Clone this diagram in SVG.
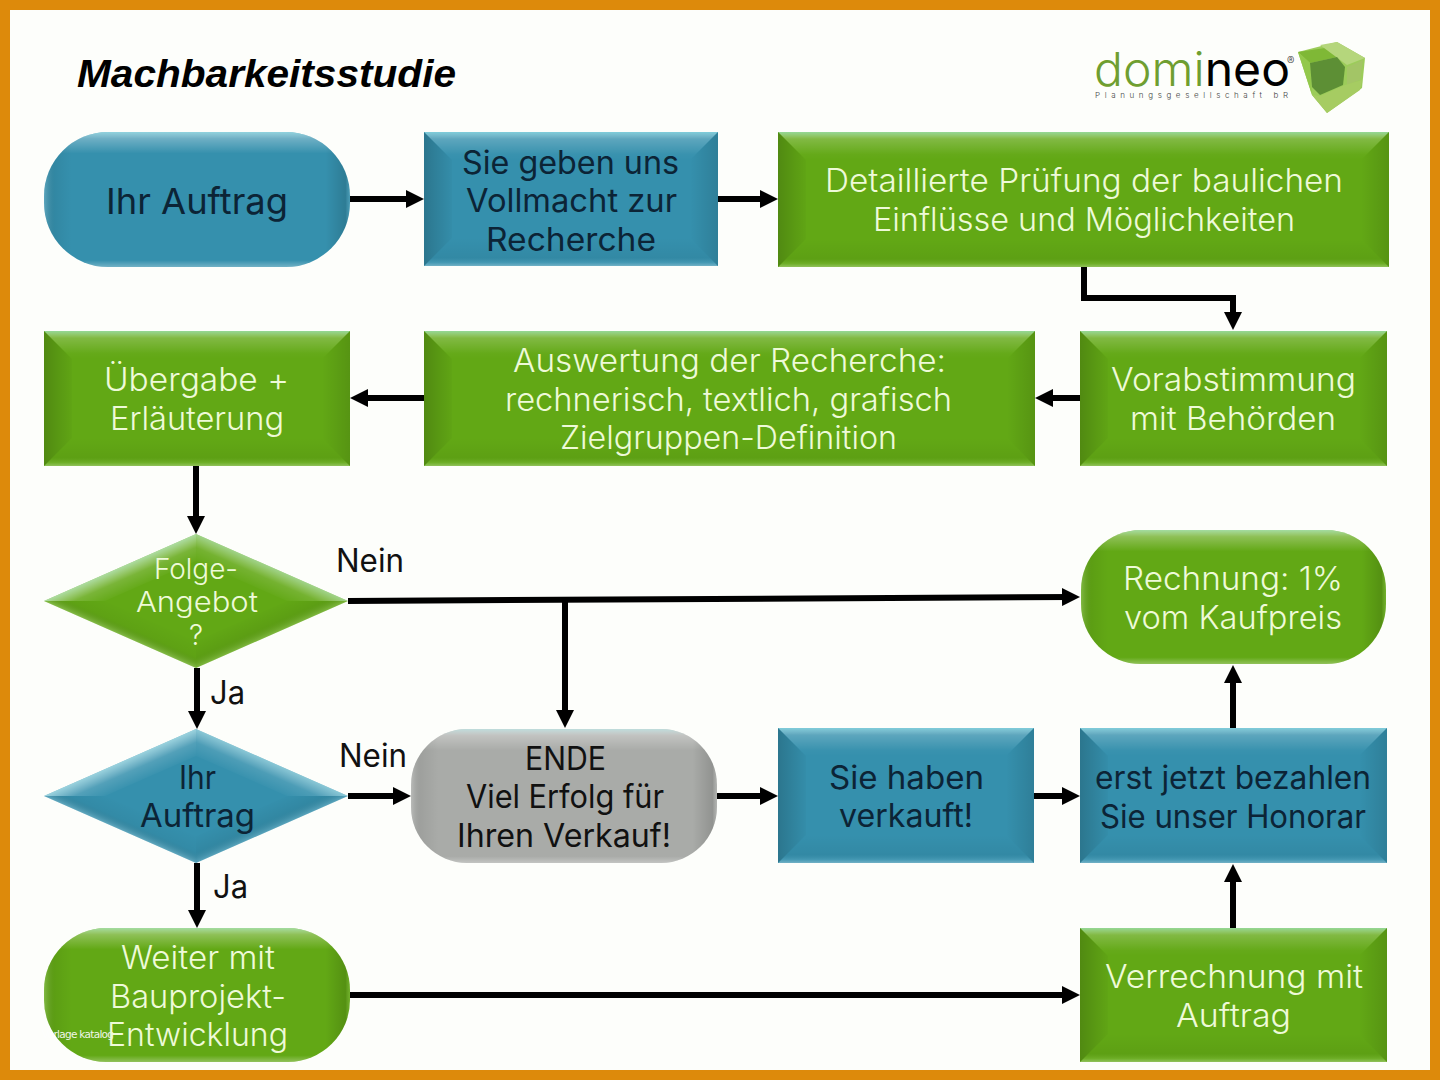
<svg xmlns="http://www.w3.org/2000/svg" width="1440" height="1080" viewBox="0 0 1440 1080">
<style>
text{font-family:"Inter","Lato","Liberation Sans",sans-serif;font-weight:300}
.t{font-size:32px;fill:#eefad8}
.d{font-size:32px;fill:#0c2436;font-weight:400}
.s{font-size:28px}
.l{font-size:32px;fill:#111;font-weight:400}
.green{fill:#62a815}.blue{fill:#3590ad}.gray{fill:#a9aba8}
.top{fill:url(#gTop)}.bot{fill:url(#gBot)}.lft{fill:url(#gLeft)}.rgt{fill:url(#gRight)}
.pv{fill:url(#pV)}.ph{fill:url(#pH)}
.tl{fill:url(#dTL)}.tr{fill:url(#dTR)}.bl{fill:url(#dBL)}.br{fill:url(#dBR)}
.c{fill:none;stroke:#000;stroke-width:6;marker-end:url(#arr)}
</style>
<defs>
<marker id="arr" markerUnits="userSpaceOnUse" markerWidth="18" markerHeight="18" viewBox="0 0 18 18" refX="10" refY="9" orient="auto"><path d="M0 0L18 9L0 18Z" fill="#000"/></marker>
<linearGradient id="gTop" x1="0" y1="0" x2="0" y2="1"><stop offset="0" stop-color="#bff" stop-opacity=".55"/><stop offset=".25" stop-color="#fff" stop-opacity=".2"/><stop offset=".8" stop-color="#fff" stop-opacity=".02"/><stop offset="1" stop-color="#fff" stop-opacity="0"/></linearGradient>
<linearGradient id="gBot" x1="0" y1="1" x2="0" y2="0"><stop offset="0" stop-color="#fff" stop-opacity=".3"/><stop offset=".12" stop-color="#fff" stop-opacity=".08"/><stop offset=".3" stop-color="#000" stop-opacity=".05"/><stop offset="1" stop-color="#000" stop-opacity="0"/></linearGradient>
<linearGradient id="gLeft" x1="0" y1="0" x2="1" y2="0"><stop offset="0" stop-color="#000" stop-opacity=".18"/><stop offset="1" stop-color="#000" stop-opacity=".02"/></linearGradient>
<linearGradient id="gRight" x1="1" y1="0" x2="0" y2="0"><stop offset="0" stop-color="#000" stop-opacity=".12"/><stop offset="1" stop-color="#000" stop-opacity="0"/></linearGradient>
<linearGradient id="pV" x1="0" y1="0" x2="0" y2="1"><stop offset="0" stop-color="#cff" stop-opacity=".6"/><stop offset=".05" stop-color="#fff" stop-opacity=".28"/><stop offset=".16" stop-color="#fff" stop-opacity="0"/><stop offset=".95" stop-color="#fff" stop-opacity="0"/><stop offset="1" stop-color="#fff" stop-opacity=".3"/></linearGradient>
<linearGradient id="pH" x1="0" y1="0" x2="1" y2="0"><stop offset="0" stop-color="#fff" stop-opacity=".2"/><stop offset=".035" stop-color="#000" stop-opacity=".06"/><stop offset=".09" stop-color="#000" stop-opacity="0"/><stop offset=".92" stop-color="#000" stop-opacity="0"/><stop offset=".985" stop-color="#000" stop-opacity=".14"/><stop offset="1" stop-color="#fff" stop-opacity=".1"/></linearGradient>
<linearGradient id="dTL" x1="0" y1="0" x2="1" y2="1"><stop offset=".5" stop-color="#dff" stop-opacity=".6"/><stop offset=".6" stop-color="#fff" stop-opacity=".15"/><stop offset=".72" stop-color="#fff" stop-opacity="0"/></linearGradient>
<linearGradient id="dTR" x1="1" y1="0" x2="0" y2="1"><stop offset=".5" stop-color="#dff" stop-opacity=".5"/><stop offset=".6" stop-color="#fff" stop-opacity=".12"/><stop offset=".72" stop-color="#fff" stop-opacity="0"/></linearGradient>
<linearGradient id="dBL" x1="0" y1="1" x2="1" y2="0"><stop offset=".5" stop-color="#fff" stop-opacity=".22"/><stop offset=".58" stop-color="#000" stop-opacity=".04"/><stop offset=".72" stop-color="#000" stop-opacity="0"/></linearGradient>
<linearGradient id="dBR" x1="1" y1="1" x2="0" y2="0"><stop offset=".5" stop-color="#fff" stop-opacity=".18"/><stop offset=".58" stop-color="#000" stop-opacity=".06"/><stop offset=".72" stop-color="#000" stop-opacity="0"/></linearGradient>
</defs>
<rect width="1440" height="1080" fill="#fdfefb"/>
<rect x="5" y="5" width="1430" height="1070" fill="none" stroke="#dd8a0b" stroke-width="10"/>

<g id="title"><text x="77" y="87" font-size="38" textLength="379" lengthAdjust="spacingAndGlyphs" style="font-family:'Liberation Sans',sans-serif;font-weight:bold;font-style:italic" fill="#000">Machbarkeitsstudie</text></g>

<g id="logo">
<text x="1094" y="86" font-size="47" textLength="196" lengthAdjust="spacingAndGlyphs"><tspan fill="#6f9e30">domi</tspan><tspan fill="#000" font-weight="400">neo</tspan></text>
<text x="1287" y="65" font-size="11" fill="#333">®</text>
<text x="1095" y="98" font-size="8" fill="#444" font-weight="400" textLength="193" lengthAdjust="spacing">Planungsgesellschaft bR</text>
<polygon points="1298,52 1337,42 1365,58 1362,88 1327,113 1312,95" fill="#9ccc5a"/>
<polygon points="1298,52 1325,48 1337,57 1310,63" fill="#7fb836"/>
<polygon points="1320,45 1337,42 1365,58 1347,65" fill="#b5d67c"/>
<polygon points="1347,67 1363,60 1360,80 1347,85" fill="#a3c566"/>
<polygon points="1298,52 1310,63 1312,95" fill="#93c84b"/>
<polygon points="1310,63 1337,57 1345,67 1343,85 1320,95 1312,87" fill="#5d8f35"/>
<polygon points="1312,95 1320,96 1345,85 1362,80 1360,90 1327,113" fill="#a6cc62"/>
</g>

<g id="connectors">
<path class="c" d="M350 199H416"/>
<path class="c" d="M718 199H770"/>
<path class="c" d="M1084 267V298H1233V322"/>
<path class="c" d="M1080 398H1043"/>
<path class="c" d="M424 398H358"/>
<path class="c" d="M196 466V526"/>
<path class="c" d="M348 601L1072 597"/>
<path class="c" d="M565 601V720"/>
<path class="c" d="M197 668V721"/>
<path class="c" d="M348 796H403"/>
<path class="c" d="M717 796H770"/>
<path class="c" d="M1034 796H1072"/>
<path class="c" d="M1233 728V673"/>
<path class="c" d="M1233 928V872"/>
<path class="c" d="M197 863V920"/>
<path class="c" d="M350 995H1072"/>
</g>

<g id="n-start">
<rect class="blue" x="44" y="132" width="306" height="135" rx="64"/><rect class="pv" x="44" y="132" width="306" height="135" rx="64"/><rect class="ph" x="44" y="132" width="306" height="135" rx="64"/>
<text class="d" x="106" y="214" style="font-size:36px" textLength="182" lengthAdjust="spacingAndGlyphs">Ihr Auftrag</text>
</g>

<g id="n-vollmacht">
<rect class="blue" x="424" y="132" width="294" height="134"/>
<polygon class="top" points="424,132 718,132 690,160 452,160"/><polygon class="bot" points="424,266 718,266 690,238 452,238"/><polygon class="lft" points="424,132 452,160 452,238 424,266"/><polygon class="rgt" points="718,132 690,160 690,238 718,266"/>
<text class="d" x="462" y="174" textLength="217" lengthAdjust="spacingAndGlyphs">Sie geben uns</text>
<text class="d" x="466" y="212" textLength="211" lengthAdjust="spacingAndGlyphs">Vollmacht zur</text>
<text class="d" x="486" y="251" textLength="170" lengthAdjust="spacingAndGlyphs">Recherche</text>
</g>

<g id="n-pruefung">
<rect class="green" x="778" y="132" width="611" height="135"/>
<polygon class="top" points="778,132 1389,132 1361,160 806,160"/><polygon class="bot" points="778,267 1389,267 1361,239 806,239"/><polygon class="lft" points="778,132 806,160 806,239 778,267"/><polygon class="rgt" points="1389,132 1361,160 1361,239 1389,267"/>
<text class="t" x="825" y="192" textLength="518" lengthAdjust="spacingAndGlyphs">Detaillierte Prüfung der baulichen</text>
<text class="t" x="873" y="231" textLength="422" lengthAdjust="spacingAndGlyphs">Einflüsse und Möglichkeiten</text>
</g>

<g id="n-uebergabe">
<rect class="green" x="44" y="331" width="306" height="135"/>
<polygon class="top" points="44,331 350,331 322,359 72,359"/><polygon class="bot" points="44,466 350,466 322,438 72,438"/><polygon class="lft" points="44,331 72,359 72,438 44,466"/><polygon class="rgt" points="350,331 322,359 322,438 350,466"/>
<text class="t" x="104" y="391" textLength="185" lengthAdjust="spacingAndGlyphs">Übergabe +</text>
<text class="t" x="110" y="430" textLength="174" lengthAdjust="spacingAndGlyphs">Erläuterung</text>
</g>

<g id="n-auswertung">
<rect class="green" x="424" y="331" width="611" height="135"/>
<polygon class="top" points="424,331 1035,331 1007,359 452,359"/><polygon class="bot" points="424,466 1035,466 1007,438 452,438"/><polygon class="lft" points="424,331 452,359 452,438 424,466"/><polygon class="rgt" points="1035,331 1007,359 1007,438 1035,466"/>
<text class="t" x="513" y="372" textLength="433" lengthAdjust="spacingAndGlyphs">Auswertung der Recherche:</text>
<text class="t" x="505" y="411" textLength="447" lengthAdjust="spacingAndGlyphs">rechnerisch, textlich, grafisch</text>
<text class="t" x="560" y="449" textLength="337" lengthAdjust="spacingAndGlyphs">Zielgruppen-Definition</text>
</g>

<g id="n-vorabstimmung">
<rect class="green" x="1080" y="331" width="307" height="135"/>
<polygon class="top" points="1080,331 1387,331 1359,359 1108,359"/><polygon class="bot" points="1080,466 1387,466 1359,438 1108,438"/><polygon class="lft" points="1080,331 1108,359 1108,438 1080,466"/><polygon class="rgt" points="1387,331 1359,359 1359,438 1387,466"/>
<text class="t" x="1111" y="391" textLength="245" lengthAdjust="spacingAndGlyphs">Vorabstimmung</text>
<text class="t" x="1130" y="430" textLength="206" lengthAdjust="spacingAndGlyphs">mit Behörden</text>
</g>

<g id="n-folgeangebot">
<polygon class="green" points="196,534 348,601 196,668 44,601"/>
<polygon class="tl" points="196,534 44,601 105,601 196,561"/><polygon class="tr" points="196,534 348,601 287,601 196,561"/><polygon class="bl" points="44,601 196,668 196,641 105,601"/><polygon class="br" points="348,601 196,668 196,641 287,601"/>
<text class="t s" x="154" y="579" textLength="84" lengthAdjust="spacingAndGlyphs">Folge-</text>
<text class="t s" x="136" y="612" textLength="122" lengthAdjust="spacingAndGlyphs">Angebot</text>
<text class="t s" x="196" y="645" text-anchor="middle">?</text>
</g>

<g id="n-auftrag-decision">
<polygon class="blue" points="196,729 348,796 196,863 44,796"/>
<polygon class="tl" points="196,729 44,796 105,796 196,756"/><polygon class="tr" points="196,729 348,796 287,796 196,756"/><polygon class="bl" points="44,796 196,863 196,836 105,796"/><polygon class="br" points="348,796 196,863 196,836 287,796"/>
<text class="d" x="179" y="789" textLength="37" lengthAdjust="spacingAndGlyphs">Ihr</text>
<text class="d" x="140" y="827" textLength="115" lengthAdjust="spacingAndGlyphs">Auftrag</text>
</g>

<g id="n-rechnung">
<rect class="green" x="1081" y="530" width="305" height="134" rx="60"/><rect class="pv" x="1081" y="530" width="305" height="134" rx="60"/><rect class="ph" x="1081" y="530" width="305" height="134" rx="60"/>
<text class="t" x="1123" y="590" textLength="220" lengthAdjust="spacingAndGlyphs">Rechnung: 1%</text>
<text class="t" x="1124" y="629" textLength="218" lengthAdjust="spacingAndGlyphs">vom Kaufpreis</text>
</g>

<g id="n-ende">
<rect class="gray" x="411" y="729" width="306" height="134" rx="56"/><rect class="pv" x="411" y="729" width="306" height="134" rx="56"/><rect class="ph" x="411" y="729" width="306" height="134" rx="56"/>
<text class="d" x="525" y="770" fill="#111" style="fill:#111" textLength="81" lengthAdjust="spacingAndGlyphs">ENDE</text>
<text class="d" x="466" y="808" style="fill:#111" textLength="198" lengthAdjust="spacingAndGlyphs">Viel Erfolg für</text>
<text class="d" x="457" y="847" style="fill:#111" textLength="214" lengthAdjust="spacingAndGlyphs">Ihren Verkauf!</text>
</g>

<g id="n-verkauft">
<rect class="blue" x="778" y="728" width="256" height="135"/>
<polygon class="top" points="778,728 1034,728 1006,756 806,756"/><polygon class="bot" points="778,863 1034,863 1006,835 806,835"/><polygon class="lft" points="778,728 806,756 806,835 778,863"/><polygon class="rgt" points="1034,728 1006,756 1006,835 1034,863"/>
<text class="d" x="829" y="789" textLength="155" lengthAdjust="spacingAndGlyphs">Sie haben</text>
<text class="d" x="839" y="827" textLength="134" lengthAdjust="spacingAndGlyphs">verkauft!</text>
</g>

<g id="n-honorar">
<rect class="blue" x="1080" y="728" width="307" height="135"/>
<polygon class="top" points="1080,728 1387,728 1359,756 1108,756"/><polygon class="bot" points="1080,863 1387,863 1359,835 1108,835"/><polygon class="lft" points="1080,728 1108,756 1108,835 1080,863"/><polygon class="rgt" points="1387,728 1359,756 1359,835 1387,863"/>
<text class="d" x="1095" y="789" textLength="276" lengthAdjust="spacingAndGlyphs">erst jetzt bezahlen</text>
<text class="d" x="1100" y="828" textLength="266" lengthAdjust="spacingAndGlyphs">Sie unser Honorar</text>
</g>

<g id="n-weiter">
<rect class="green" x="44" y="928" width="306" height="134" rx="62"/><rect class="pv" x="44" y="928" width="306" height="134" rx="62"/><rect class="ph" x="44" y="928" width="306" height="134" rx="62"/>
<text x="42" y="1038" font-size="10.5" fill="#fff" opacity=".9" textLength="72" style="font-family:'DejaVu Sans',sans-serif;font-weight:400">Vorlage katalog</text>
<text class="t" x="121" y="969" textLength="154" lengthAdjust="spacingAndGlyphs">Weiter mit</text>
<text class="t" x="110" y="1008" textLength="176" lengthAdjust="spacingAndGlyphs">Bauprojekt-</text>
<text class="t" x="107" y="1046" textLength="181" lengthAdjust="spacingAndGlyphs">Entwicklung</text>
</g>

<g id="n-verrechnung">
<rect class="green" x="1080" y="928" width="307" height="134"/>
<polygon class="top" points="1080,928 1387,928 1359,956 1108,956"/><polygon class="bot" points="1080,1062 1387,1062 1359,1034 1108,1034"/><polygon class="lft" points="1080,928 1108,956 1108,1034 1080,1062"/><polygon class="rgt" points="1387,928 1359,956 1359,1034 1387,1062"/>
<text class="t" x="1105" y="988" textLength="258" lengthAdjust="spacingAndGlyphs">Verrechnung mit</text>
<text class="t" x="1176" y="1027" textLength="115" lengthAdjust="spacingAndGlyphs">Auftrag</text>
</g>

<g id="labels">
<text class="l" x="336" y="572" textLength="68" lengthAdjust="spacingAndGlyphs">Nein</text>
<text class="l" x="339" y="767" textLength="68" lengthAdjust="spacingAndGlyphs">Nein</text>
<text class="l" x="210" y="704" textLength="35" lengthAdjust="spacingAndGlyphs">Ja</text>
<text class="l" x="213" y="898" textLength="35" lengthAdjust="spacingAndGlyphs">Ja</text>
</g>
</svg>
